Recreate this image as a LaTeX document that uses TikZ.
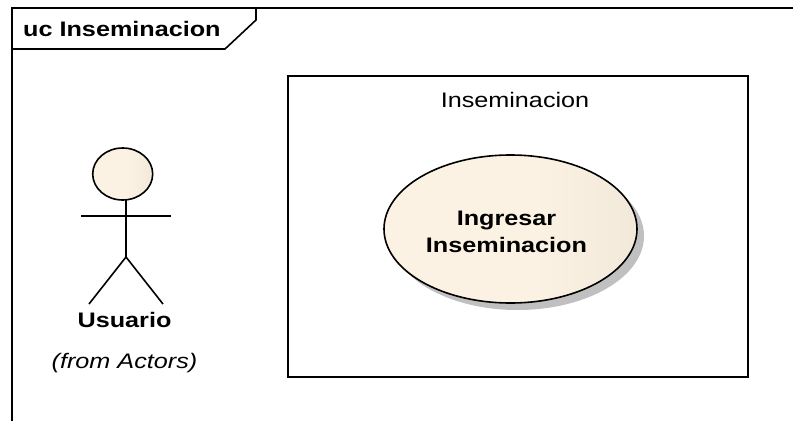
\documentclass[tikz,border=0pt]{standalone}
\usepackage{fontspec}
\setmainfont[FakeStretch=1.2]{Liberation Sans}
\usepackage{tikz}
\usetikzlibrary{positioning,shapes,calc}
\definecolor{usefill}{HTML}{FBF2E4}
\definecolor{useedge}{HTML}{E6DDCF}
\definecolor{useshadow}{HTML}{C0C0C0}
\pgfdeclarehorizontalshading{usecase}{100bp}{color(0bp)=(usefill);color(55bp)=(usefill);color(100bp)=(useedge)}
\tikzset{
  usecase/.style={ellipse,draw,line width=1.6pt,shading=usecase,inner sep=0pt},
  thickline/.style={line width=1.6pt},
  boldlabel/.style={font=\bfseries\fontsize{21}{27}\selectfont,align=center,inner sep=0pt}
}
\begin{document}
\begin{tikzpicture}[x=1pt,y=-1pt]
\useasboundingbox (0,0) rectangle (793,421);
\fill[white] (0,0) rectangle (793,421);
%
\coordinate (f1) at (793,8);
\coordinate (f2) at (12,8);
\coordinate (f3) at (12,421);
\coordinate (t1) at (12,49);
\coordinate (t2) at (225,49);
\coordinate (t3) at (256,20);
\coordinate (t4) at (256,8);
\draw[thickline] (f1) -- (f2) -- (f3);
\draw[thickline] (t1) -- (t2) -- (t3) -- (t4);
\node (title) [boldlabel,anchor=west] at (23,28.5) {uc Inseminacion};
%
\node (box) [draw,thickline,minimum width=460pt,minimum height=301pt,inner sep=0pt] at (518,226.5) {};
\node (boxlabel) [inner sep=0pt,font=\fontsize{21}{27}\selectfont] at (515,100) {Inseminacion};
%
\fill[useshadow] (517.5,236) ellipse [x radius=126.5pt,y radius=74pt];
\node (uc) [usecase,minimum width=253pt,minimum height=148pt] at (510.5,229) {};
\node (ucname) [boldlabel] at (506.5,231.5) {Ingresar\\Inseminacion};
%
\node (head) [usecase,minimum width=60pt,minimum height=52pt] at (122.7,174) {};
\coordinate (neck) at (126,200);
\coordinate (hip) at (126,257);
\coordinate (handl) at (81,216);
\coordinate (handr) at (171,216);
\coordinate (footl) at (89,304);
\coordinate (footr) at (163,304);
\draw[thickline] (neck) to (hip);
\draw[thickline] (handl) to (handr);
\draw[thickline] (hip) to (footl);
\draw[thickline] (hip) to (footr);
\node (usuario) [boldlabel] at (124.5,319.5) {Usuario};
\node (from) [inner sep=0pt,font=\itshape\fontsize{21}{27}\selectfont] at (124.5,363) {(from Actors)};
%
\end{tikzpicture}
\end{document}
